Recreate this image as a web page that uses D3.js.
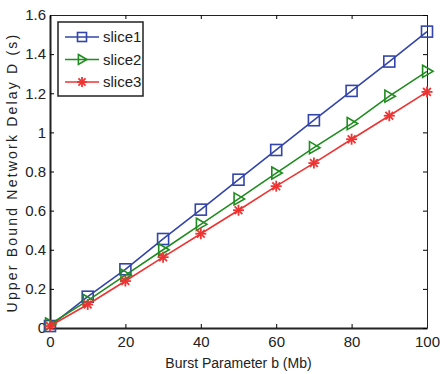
<!DOCTYPE html>
<html>
<head>
<meta charset="utf-8">
<script src="https://cdn.jsdelivr.net/npm/d3@7"></script>
<style>
  body { margin: 0; background: #fff; }
  text { font-family: "Liberation Sans Narrow", "Arial Narrow", "Liberation Sans", sans-serif; fill: #222; }
</style>
</head>
<body>
<div id="chart"></div>
<script>
// data
var burst = [0, 10, 20, 30, 40, 50, 60, 70, 80, 90, 100];
var slice1 = [0.01, 0.16, 0.30, 0.455, 0.605, 0.758, 0.91, 1.062, 1.212, 1.362, 1.515];
var slice2 = [0.02, 0.14, 0.27, 0.40, 0.53, 0.66, 0.792, 0.922, 1.045, 1.185, 1.312];
var slice3 = [0.01, 0.12, 0.24, 0.362, 0.482, 0.602, 0.725, 0.843, 0.965, 1.085, 1.207];
var seriesNames = ["slice1", "slice2", "slice3"];
var xTicks = [0, 20, 40, 60, 80, 100];
var yTicks = [0, 0.2, 0.4, 0.6, 0.8, 1, 1.2, 1.4, 1.6];

var w = 440, h = 374;
var pLeft = 50, pRight = 427, pTop = 15, pBottom = 328;

var colors = ["#3344aa", "#1e8c1e", "#ee3333"];
var allSeries = [slice1, slice2, slice3];

var svg = d3.select("#chart").append("svg")
    .attr("width", w)
    .attr("height", h);

var x = d3.scaleLinear().domain([0, 100]).range([pLeft, pRight]);
var y = d3.scaleLinear().domain([0, 1.6]).range([pBottom, pTop]);

// axes box with inward ticks
svg.append("g")
    .attr("transform", "translate(0," + pBottom + ")")
    .call(d3.axisBottom(x).tickValues(xTicks).tickSizeInner(-4).tickSizeOuter(0).tickPadding(8)
      .tickFormat(d3.format("d")))
    .call(function(g){
      g.select(".domain").attr("stroke", "#222").attr("stroke-width", 2);
      g.selectAll("text").style("font-size", "15px").attr("dy", "0.75em");
    });

svg.append("g")
    .attr("transform", "translate(" + pLeft + ",0)")
    .call(d3.axisLeft(y).tickValues(yTicks).tickSizeInner(-4).tickSizeOuter(0).tickPadding(4)
      .tickFormat(function(d){ return d === 0 ? "0" : String(Math.round(d * 10) / 10); }))
    .call(function(g){
      g.select(".domain").attr("stroke", "#222").attr("stroke-width", 2);
      g.selectAll("text").style("font-size", "15px");
    });

svg.append("g")
    .attr("transform", "translate(0," + pTop + ")")
    .call(d3.axisTop(x).tickValues(xTicks).tickSizeInner(-4).tickSizeOuter(0).tickFormat(""))
    .call(function(g){ g.select(".domain").attr("stroke", "#222"); });

svg.append("g")
    .attr("transform", "translate(" + pRight + ",0)")
    .call(d3.axisRight(y).tickValues(yTicks).tickSizeInner(-4).tickSizeOuter(0).tickFormat(""))
    .call(function(g){ g.select(".domain").attr("stroke", "#222"); });

// marker drawing
function drawMarker(g, i, cx, cy, s) {
  var c = colors[i];
  if (i === 0) {
    g.append("rect")
      .attr("x", cx - s).attr("y", cy - s)
      .attr("width", 2 * s).attr("height", 2 * s)
      .attr("fill", "none").attr("stroke", c).attr("stroke-width", 1.6);
  } else if (i === 1) {
    g.append("path")
      .attr("d", "M" + (cx - s * 0.8) + "," + (cy - s * 1.1) + "L" + (cx + s * 1.1) + "," + cy +
                 "L" + (cx - s * 0.8) + "," + (cy + s * 1.1) + "Z")
      .attr("fill", "none").attr("stroke", c).attr("stroke-width", 1.6);
  } else {
    var a = [0, 45, 90, 135];
    a.forEach(function(deg){
      var r = deg * Math.PI / 180;
      g.append("line")
        .attr("x1", cx - s * Math.cos(r)).attr("y1", cy - s * Math.sin(r))
        .attr("x2", cx + s * Math.cos(r)).attr("y2", cy + s * Math.sin(r))
        .attr("stroke", c).attr("stroke-width", 1.8);
    });
  }
}

var line = d3.line()
    .x(function(d, i){ return x(burst[i]); })
    .y(function(d){ return y(d); });

allSeries.forEach(function(vals, i){
  var g = svg.append("g");
  g.append("path")
    .datum(vals)
    .attr("d", line)
    .attr("fill", "none")
    .attr("stroke", colors[i])
    .attr("stroke-width", 1.6);
  vals.forEach(function(v, j){
    drawMarker(g, i, x(burst[j]), y(v), 5.5);
  });
});

// legend
var legend = svg.append("g").attr("class", "legend");
legend.append("rect")
    .attr("x", 58).attr("y", 22)
    .attr("width", 85).attr("height", 74)
    .attr("fill", "#fff").attr("stroke", "#222").attr("stroke-width", 1.5);

seriesNames.forEach(function(name, i){
  var ly = 37 + i * 22.5;
  legend.append("line")
    .attr("x1", 65).attr("x2", 99)
    .attr("y1", ly).attr("y2", ly)
    .attr("stroke", colors[i]).attr("stroke-width", 1.6);
  drawMarker(legend, i, 82, ly, i === 2 ? 5 : 4.5);
  legend.append("text")
    .attr("x", 103).attr("y", ly)
    .attr("dy", "0.35em")
    .style("font-size", "15px")
    .text(name);
});

// axis titles
svg.append("text")
    .attr("x", (pLeft + pRight) / 2)
    .attr("y", 368)
    .attr("text-anchor", "middle")
    .style("font-size", "14px")
    .text("Burst Parameter b (Mb)");

svg.append("text")
    .attr("transform", "translate(17," + ((pTop + pBottom) / 2 + 1) + ") rotate(-90)")
    .attr("text-anchor", "middle")
    .style("font-size", "14px")
    .style("letter-spacing", "2.2px")
    .text("Upper Bound Network Delay D (s)");
</script>
</body>
</html>
